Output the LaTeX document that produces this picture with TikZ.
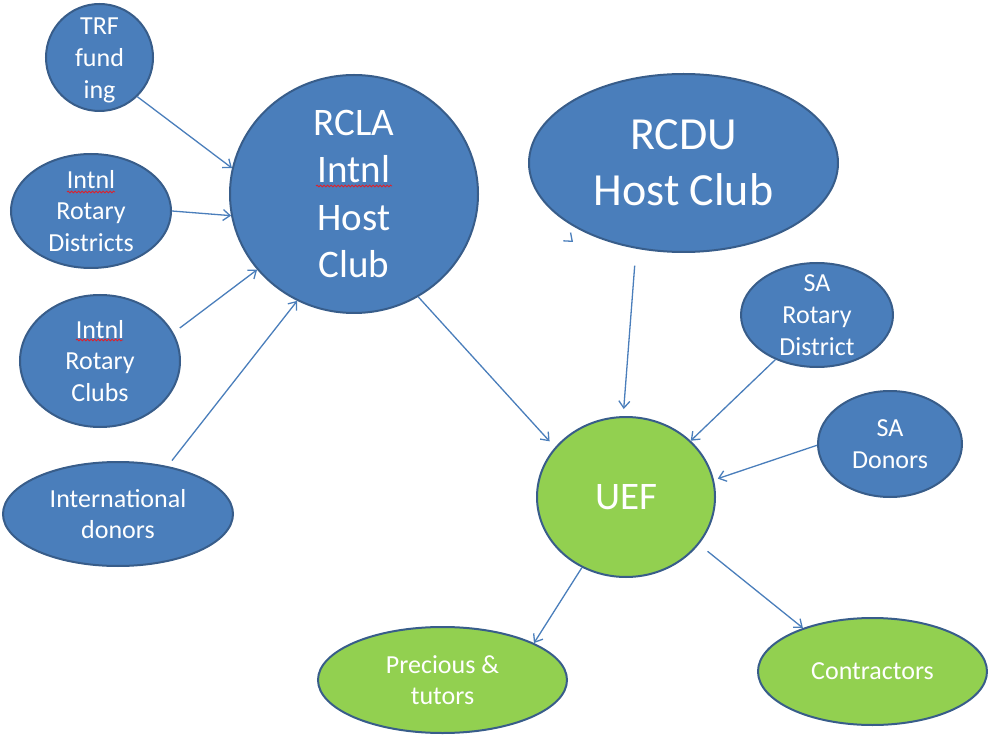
\documentclass[tikz,border=0pt]{standalone}
\usepackage{fontspec}
\setmainfont{Carlito}
\usetikzlibrary{shapes.geometric,arrows.meta,calc,decorations.pathmorphing}

\definecolor{fillblue}{HTML}{4A7EBB}
\definecolor{edgeblue}{HTML}{385D8A}
\definecolor{fillgreen}{HTML}{92D050}
\definecolor{linkblue}{HTML}{4A7EBB}
\definecolor{spellred}{HTML}{E0202A}

\tikzset{
  bubble/.style={ellipse, draw=edgeblue, line width=2pt, inner sep=0pt},
  bluebub/.style={bubble, fill=fillblue},
  greenbub/.style={bubble, fill=fillgreen},
  txt/.style={text=white, align=center, inner sep=0pt,
              font=\fontsize{26}{31.7}\selectfont},
  midtxt/.style={txt, font=\fontsize{39}{47.5}\selectfont},
  bigtxt/.style={txt, font=\fontsize{46}{56}\selectfont},
  link/.style={draw=linkblue, line width=1.3pt,
               -{Straight Barb[length=7pt,width=11pt]}},
  spellmark/.style={draw=spellred, line width=0.8pt,
                    decorate, decoration={snake, segment length=3.5pt, amplitude=0.9pt}},
}

\begin{document}
\begin{tikzpicture}[x=1pt,y=-1pt]
\useasboundingbox (0,0) rectangle (988,735);

% donor side
\node[bluebub, minimum width=107, minimum height=107,
      label={[txt, yshift=-3pt]center:TRF\\fund\\ing}] (trf) at (99.5,57.5) {};
\node[bluebub, minimum width=160, minimum height=114,
      label={[txt]center:Intnl\\Rotary\\Districts}] (districts) at (91,211) {};
\node[bluebub, minimum width=160, minimum height=132,
      label={[txt]center:Intnl\\Rotary\\Clubs}] (clubs) at (100,361) {};
\node[bluebub, minimum width=230, minimum height=104,
      label={[txt]center:International\\donors}] (intl) at (118,514) {};

% host clubs
\node[bluebub, minimum width=248, minimum height=238,
      label={[midtxt]center:RCLA\\Intnl\\Host\\Club}] (rcla) at (354,194) {};
\node[bluebub, minimum width=309, minimum height=178,
      label={[bigtxt]center:RCDU\\Host Club}] (rcdu) at (683.5,163) {};

% South African side
\node[bluebub, minimum width=152, minimum height=104,
      label={[txt]center:SA\\Rotary\\District}] (sadist) at (817,315) {};
\node[bluebub, minimum width=144, minimum height=106,
      label={[txt]center:SA\\Donors}] (sadonors) at (890,444) {};

% fund and recipients
\node[greenbub, minimum width=178, minimum height=160,
      label={[midtxt]center:UEF}] (uef) at (626,497) {};
\node[greenbub, minimum width=249, minimum height=106,
      label={[txt]center:Precious \&\\tutors}] (precious) at (442.5,680) {};
\node[greenbub, minimum width=229, minimum height=107,
      label={[txt]center:Contractors}] (contractors) at (872.5,671.5) {};

% spell-check marks under "Intnl"
\draw[spellmark] ($(rcla.center)+(-38,-8)$) -- ++(76,0);
\draw[spellmark] ($(districts.center)+(-24,-19)$) -- ++(48,0);
\draw[spellmark] ($(clubs.center)+(-24,-21)$) -- ++(47,0);

% flows into the host club
\draw[link] (trf.-46.5) -- (rcla.168.5);
\draw[link] (districts.0) -- (rcla.190);
\draw[link, shorten <=8pt] (clubs.21) -- (rcla.218.4);
\draw[link, shorten <=7pt] (intl.44.5) -- (rcla.242.3);

% flows into the fund
\draw[link, shorten >=8pt] (rcla.-58.9) -- (uef.145.8);
\draw[link, shorten <=17pt, shorten >=7pt] (rcdu.241) -- (uef.92);
\draw[link] (sadist.227.7) -- (uef.41.7);
\draw[link, shorten >=4pt] (sadonors.181.6) -- (uef.11.9);

% flows out of the fund
\draw[link] (uef.238.8) -- (precious.22.9);
\draw[link, shorten <=11pt] (uef.-33.2) -- (contractors.148.7);

% stray arrow head below RCDU
\coordinate (strayA) at (572.2,241.3);
\coordinate (strayB) at (573,242);
\draw[link] (strayA) -- (strayB);

\end{tikzpicture}
\end{document}
